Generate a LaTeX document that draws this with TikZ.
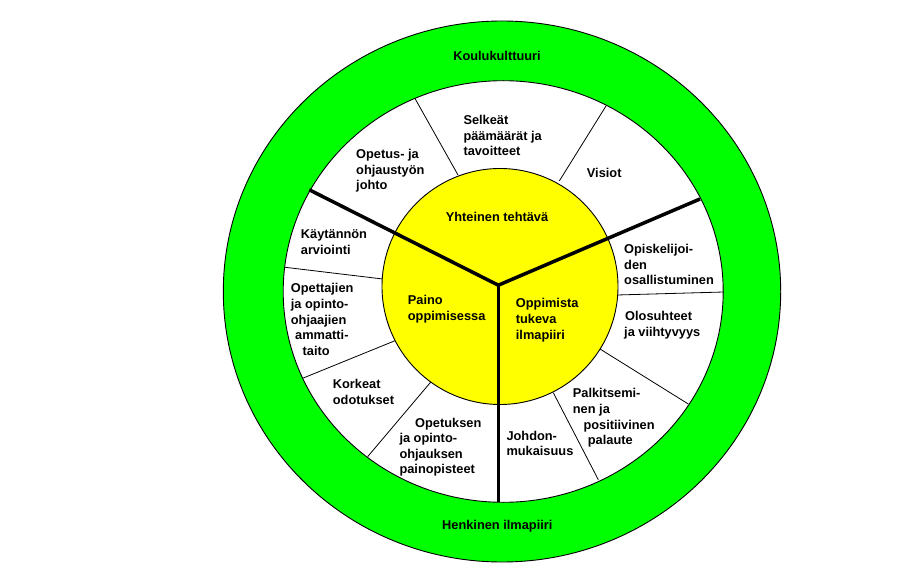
\documentclass[tikz,border=0pt]{standalone}
\usepackage{fontspec}
\setmainfont{Liberation Sans}
\definecolor{ringgreen}{RGB}{0,255,0}
\definecolor{coreyellow}{RGB}{255,255,0}
\begin{document}
\begin{tikzpicture}[x=1pt,y=-1pt,
  lbl/.style={font=\bfseries\fontsize{12.8}{15.6}\selectfont, inner sep=0pt, align=left, anchor=west},
  ctr/.style={font=\bfseries\fontsize{12.8}{15.6}\selectfont, inner sep=0pt, anchor=center},
  rim/.style={draw=black, line width=0.9pt},
  divider/.style={draw=black, line width=0.8pt},
  spoke/.style={draw=black, line width=3.5pt, line join=miter}]
\useasboundingbox (0,0) rectangle (919,572);
% rings
\path[rim, fill=ringgreen] (502,291.5) ellipse [x radius=278.7pt, y radius=270.5pt];
\path[rim, fill=white] (503.2,291.5) ellipse [x radius=220pt, y radius=210.8pt];
% thin dividers (inner end on yellow circle, outer end on white ring)
\coordinate (d1i) at (458,175);   \coordinate (d1o) at (415,98.5);
\coordinate (d2i) at (559.3,181); \coordinate (d2o) at (606,106);
\coordinate (d3i) at (382.7,279); \coordinate (d3o) at (284.3,267.2);
\coordinate (d4i) at (617,295);   \coordinate (d4o) at (723.8,292);
\coordinate (d5i) at (395.5,340.5); \coordinate (d5o) at (303.3,378);
\coordinate (d6i) at (430.8,382); \coordinate (d6o) at (367.7,456.6);
\coordinate (d7i) at (600,349);   \coordinate (d7o) at (688.3,404);
\coordinate (d8i) at (553.3,392.7); \coordinate (d8o) at (598.3,479.7);
\foreach \k in {1,...,8} {\path[divider] (d\k i) -- (d\k o);}
% core
\coordinate (corec) at (500,286.5);
\path[rim, fill=coreyellow] (corec) circle [radius=118pt];
% spokes
\coordinate (hub) at (498.3,285.2);
\coordinate (sl) at (309.3,189.8);
\coordinate (sr) at (700,199);
\coordinate (sb) at (498.3,502);
\path[spoke] (hub) -- (sb);
\path[spoke] (sl) -- (hub) -- (sr);
% texts
\node[ctr] (koulu) at (497,56) {Koulukulttuuri};
\node[ctr] (henk) at (497.3,526) {Henkinen ilmapiiri};
\node[ctr] (yht) at (497,216.7) {Yhteinen tehtävä};
\node[lbl] (selk) at (463.3,135.7) {Selkeät\\päämäärät ja\\tavoitteet};
\node[lbl] (opet) at (356,170.8) {Opetus- ja\\ohjaustyön\\johto};
\node[lbl] (vis) at (586.7,173.3) {Visiot};
\node[lbl] (kayt) at (300.7,242.2) {Käytännön\\arviointi};
\node[lbl] (opis) at (624,264.5) {Opiskelijoi-\\den\\osallistuminen};
\node[lbl] (opett) at (290.7,319.5) {Opettajien\\ja opinto-\\ohjaajien\\\hspace*{4.3pt}ammatti-\\\hspace*{11.8pt}taito};
\node[lbl] (paino) at (407.7,309.2) {Paino\\oppimisessa};
\node[lbl] (oppi) at (515.7,320.2) {Oppimista\\tukeva\\ilmapiiri};
\node[lbl] (olo) at (624,325.2) {\hspace*{1pt}Olosuhteet\\ja viihtyvyys};
\node[lbl] (kork) at (332.7,392.2) {Korkeat\\odotukset};
\node[lbl] (palk) at (572.7,418) {Palkitsemi-\\nen ja\\\hspace*{10.6pt}positiivinen\\\hspace*{15pt}palaute};
\node[lbl] (johd) at (506.3,443.6) {Johdon-\\mukaisuus};
\node[lbl] (opetu) at (399.3,447.2) {\hspace*{15.7pt}Opetuksen\\ja opinto-\\ohjauksen\\painopisteet};
\end{tikzpicture}
\end{document}
